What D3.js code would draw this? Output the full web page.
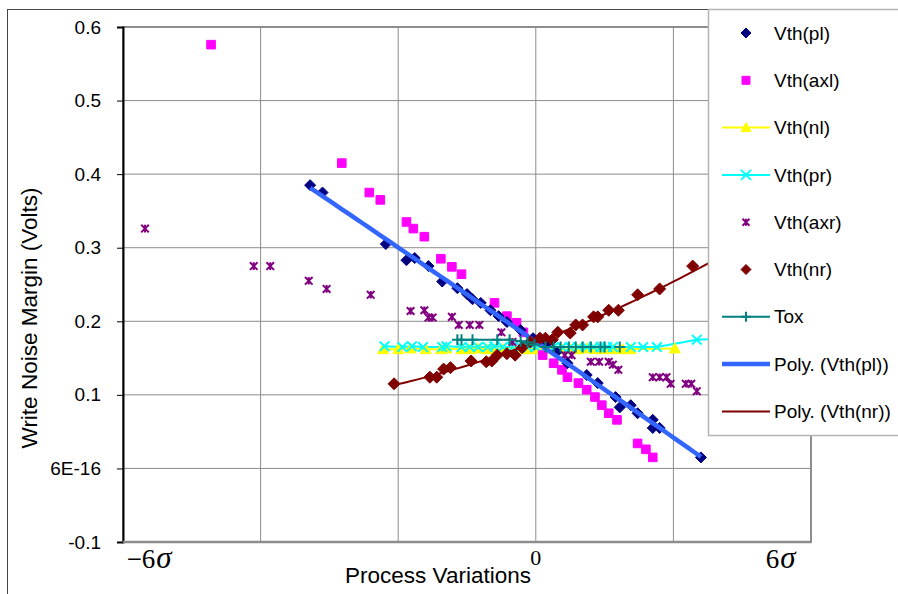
<!DOCTYPE html>
<html lang="en">
<head>
    <meta charset="UTF-8" />
    <title>Write Noise Margin vs Process Variations</title>
    <script src="https://d3js.org/d3.v7.min.js"></script>
    <style>
        body { margin: 0; background: #fff; }
        svg { display: block; font-family: "Liberation Sans", Arial, sans-serif; }
        .grid line { stroke: #8c8c8c; stroke-width: 1px; }
        .sigma { font-family: "Liberation Serif", "Times New Roman", serif; }
    </style>
</head>
<body>
    <script>
        // series (x = process variation, y = noise margin in volts)
        const plX = [-0.164, -0.155, -0.109, -0.094, -0.088, -0.078, -0.068, -0.057, -0.050, -0.046, -0.040, -0.033, -0.027, -0.021, -0.011, -0.002, 0.007, 0.015, 0.023, 0.037, 0.045, 0.058, 0.061, 0.069, 0.074, 0.085, 0.085, 0.090, 0.120];
        const plY = [0.385, 0.375, 0.305, 0.283, 0.286, 0.275, 0.254, 0.245, 0.237, 0.230, 0.225, 0.215, 0.207, 0.199, 0.188, 0.177, 0.168, 0.158, 0.143, 0.127, 0.116, 0.097, 0.083, 0.086, 0.075, 0.066, 0.055, 0.055, 0.015];

        const axlX = [-0.236, -0.141, -0.121, -0.113, -0.094, -0.089, -0.081, -0.069, -0.061, -0.054, -0.030, -0.021, -0.014, -0.009, -0.002, 0.005, 0.013, 0.019, 0.023, 0.031, 0.037, 0.043, 0.048, 0.053, 0.059, 0.074, 0.080, 0.085];
        const axlY = [0.576, 0.415, 0.375, 0.365, 0.335, 0.326, 0.315, 0.285, 0.274, 0.264, 0.225, 0.207, 0.198, 0.185, 0.175, 0.154, 0.143, 0.134, 0.124, 0.116, 0.107, 0.097, 0.086, 0.075, 0.066, 0.034, 0.026, 0.015];

        const nlX = [-0.111, -0.100, -0.091, -0.080, -0.069, -0.065, -0.054, -0.048, -0.042, -0.035, -0.030, -0.024, -0.017, -0.011, -0.006, 0.000, 0.007, 0.013, 0.019, 0.025, 0.031, 0.037, 0.043, 0.050, 0.057, 0.063, 0.069, 0.101];
        const nlY = [0.162, 0.162, 0.163, 0.162, 0.162, 0.163, 0.162, 0.162, 0.163, 0.162, 0.162, 0.162, 0.163, 0.162, 0.162, 0.162, 0.162, 0.163, 0.162, 0.162, 0.162, 0.163, 0.162, 0.162, 0.162, 0.162, 0.162, 0.163];

        const prX = [-0.110, -0.097, -0.090, -0.082, -0.068, -0.065, -0.054, -0.048, -0.042, -0.035, -0.030, -0.024, -0.017, -0.011, -0.006, 0.000, 0.007, 0.013, 0.019, 0.025, 0.031, 0.037, 0.042, 0.047, 0.052, 0.056, 0.069, 0.078, 0.088, 0.117, 0.141];
        const prY = [0.166, 0.165, 0.166, 0.165, 0.165, 0.166, 0.165, 0.165, 0.165, 0.165, 0.166, 0.165, 0.165, 0.165, 0.165, 0.165, 0.165, 0.165, 0.165, 0.165, 0.165, 0.165, 0.165, 0.165, 0.165, 0.165, 0.165, 0.165, 0.165, 0.175, 0.177];

        const axrX = [-0.284, -0.205, -0.193, -0.165, -0.152, -0.120, -0.091, -0.081, -0.078, -0.075, -0.061, -0.056, -0.048, -0.041, -0.025, -0.017, 0.021, 0.026, 0.040, 0.046, 0.053, 0.056, 0.060, 0.085, 0.090, 0.095, 0.098, 0.109, 0.113, 0.117];
        const axrY = [0.326, 0.275, 0.275, 0.255, 0.244, 0.236, 0.214, 0.215, 0.205, 0.205, 0.206, 0.195, 0.195, 0.195, 0.185, 0.172, 0.154, 0.154, 0.145, 0.145, 0.145, 0.141, 0.134, 0.124, 0.124, 0.124, 0.115, 0.115, 0.115, 0.105];

        const nrX = [-0.103, -0.077, -0.072, -0.067, -0.062, -0.047, -0.036, -0.032, -0.028, -0.021, -0.015, -0.010, -0.004, 0.003, 0.007, 0.012, 0.016, 0.025, 0.029, 0.034, 0.042, 0.045, 0.053, 0.060, 0.074, 0.090, 0.114, 0.145];
        const nrY = [0.115, 0.124, 0.124, 0.135, 0.137, 0.146, 0.145, 0.146, 0.154, 0.156, 0.154, 0.164, 0.172, 0.177, 0.177, 0.175, 0.185, 0.184, 0.195, 0.195, 0.206, 0.206, 0.215, 0.215, 0.236, 0.244, 0.275, 0.292];

        const toxX = [-0.057, -0.054, -0.046, -0.028, -0.019, -0.011, -0.006, -0.001, 0.007, 0.013, 0.018, 0.024, 0.029, 0.034, 0.040, 0.047, 0.050, 0.061];
        const toxY = [0.175, 0.175, 0.175, 0.175, 0.175, 0.173, 0.171, 0.168, 0.165, 0.165, 0.165, 0.165, 0.165, 0.165, 0.165, 0.165, 0.165, 0.165];

        // axis ticks and labels
        const yTicks = [-0.1, 0, 0.1, 0.2, 0.3, 0.4, 0.5, 0.6];
        const yTickLabels = ["-0.1", "6E-16", "0.1", "0.2", "0.3", "0.4", "0.5", "0.6"];
        const xTicks = [-0.3, -0.2, -0.1, 0, 0.1, 0.2];
        const sigmaNums = ["\u22126", "0", "6"];
        const sigmaAt = [-0.281, 0, 0.178];

        const width = 898, height = 594;
        const plot = { left: 123, right: 811, top: 27, bottom: 542 };

        const x = d3.scaleLinear().domain([-0.3, 0.2]).range([plot.left, plot.right]);
        const y = d3.scaleLinear().domain([-0.1, 0.6]).range([plot.bottom, plot.top]);

        const zip = (xs, ys) => xs.map((v, i) => ({ x: v, y: ys[i] }));

        // marker shapes, s = half size
        function marker(type, s) {
            switch (type) {
                case "diamond": return `M0,${-s}L${s},0L0,${s}L${-s},0Z`;
                case "square": return `M${-s},${-s}h${2 * s}v${2 * s}h${-2 * s}Z`;
                case "triangle": return `M0,${-s}L${s},${s * 0.8}L${-s},${s * 0.8}Z`;
                case "x": return `M${-s},${-s}L${s},${s}M${-s},${s}L${s},${-s}`;
                case "star": return `M${-s},${-s}L${s},${s}M${-s},${s}L${s},${-s}M0,${-s}V${s}`;
                case "plus": return `M${-s},0H${s}M0,${-s}V${s}`;
            }
        }
        const filled = t => t === "diamond" || t === "square" || t === "triangle";

        const series = [
            { name: "Vth(pl)", data: zip(plX, plY), color: "#000080", shape: "diamond", size: 5.5, line: false },
            { name: "Vth(axl)", data: zip(axlX, axlY), color: "#ff00ff", shape: "square", size: 4.3, line: false },
            { name: "Vth(nl)", data: zip(nlX, nlY), color: "#ffff00", shape: "triangle", size: 5.5, line: true },
            { name: "Vth(pr)", data: zip(prX, prY), color: "#00ffff", shape: "x", size: 4.8, line: true },
            { name: "Vth(axr)", data: zip(axrX, axrY), color: "#800080", shape: "star", size: 3.8, line: false },
            { name: "Vth(nr)", data: zip(nrX, nrY), color: "#800000", shape: "diamond", size: 6, line: false },
            { name: "Tox", data: zip(toxX, toxY), color: "#008080", shape: "plus", size: 5.5, line: true }
        ];

        // least squares quadratic, as the Poly. trendlines
        function polyfit2(pts) {
            const s = [0, 0, 0, 0, 0], t = [0, 0, 0];
            pts.forEach(p => {
                for (let k = 0; k < 5; k++) s[k] += Math.pow(p.x, k);
                for (let k = 0; k < 3; k++) t[k] += p.y * Math.pow(p.x, k);
            });
            const m = [[s[0], s[1], s[2], t[0]], [s[1], s[2], s[3], t[1]], [s[2], s[3], s[4], t[2]]];
            for (let i = 0; i < 3; i++) {
                for (let j = i + 1; j < 3; j++) {
                    const f = m[j][i] / m[i][i];
                    for (let k = i; k < 4; k++) m[j][k] -= f * m[i][k];
                }
            }
            const c = [0, 0, 0];
            for (let i = 2; i >= 0; i--) {
                let v = m[i][3];
                for (let k = i + 1; k < 3; k++) v -= m[i][k] * c[k];
                c[i] = v / m[i][i];
            }
            return c;
        }
        function trend(pts) {
            const c = polyfit2(pts);
            const [x0, x1] = d3.extent(pts, d => d.x);
            return d3.range(0, 61).map(i => {
                const xv = x0 + (x1 - x0) * i / 60;
                return { x: xv, y: c[0] + c[1] * xv + c[2] * xv * xv };
            });
        }
        const trends = [
            { name: "Poly. (Vth(pl))", data: trend(series[0].data), color: "#3366ff", width: 4.5 },
            { name: "Poly. (Vth(nr))", data: trend(series[5].data), color: "#800000", width: 2 }
        ];

        const svg = d3.select("body").append("svg").attr("width", width).attr("height", height);

        // chart frame
        svg.append("rect").attr("x", 7.5).attr("y", 9.5).attr("width", width).attr("height", height)
            .attr("fill", "#fff").attr("stroke", "#444").attr("stroke-width", 1);

        // gridlines
        const grid = svg.append("g").attr("class", "grid");
        grid.selectAll(".hy").data(yTicks).join("line")
            .attr("x1", plot.left).attr("x2", plot.right)
            .attr("y1", d => y(d)).attr("y2", d => y(d));
        grid.selectAll(".vx").data(xTicks).join("line")
            .attr("x1", d => x(d)).attr("x2", d => x(d))
            .attr("y1", plot.top).attr("y2", plot.bottom);

        // plot area border
        svg.append("rect").attr("x", plot.left).attr("y", plot.top)
            .attr("width", plot.right - plot.left).attr("height", plot.bottom - plot.top)
            .attr("fill", "none").attr("stroke", "#8c8c8c").attr("stroke-width", 2);

        // y axis
        const yAxis = svg.append("g").attr("transform", `translate(${plot.left},0)`)
            .call(d3.axisLeft(y).tickValues(yTicks).tickFormat((d, i) => yTickLabels[i]).tickSize(6).tickPadding(16));
        yAxis.select(".domain").attr("stroke", "#000").attr("stroke-width", 2);
        yAxis.selectAll(".tick line").attr("stroke", "#000");
        yAxis.selectAll("text").attr("font-size", 19).attr("fill", "#000")
            .attr("font-family", "'Liberation Sans', Arial, sans-serif");

        // bottom axis line
        svg.append("line").attr("x1", plot.left).attr("x2", plot.right)
            .attr("y1", plot.bottom).attr("y2", plot.bottom)
            .attr("stroke", "#8c8c8c").attr("stroke-width", 2.5);

        const line = d3.line().x(d => x(d.x)).y(d => y(d.y));
        const marks = svg.append("g");

        // connecting lines of line series
        series.filter(s => s.line).forEach(s => {
            marks.append("path").datum(s.data).attr("d", line)
                .attr("fill", "none").attr("stroke", s.color).attr("stroke-width", 2);
        });

        function drawMarkers(s) {
            marks.append("g").selectAll("path").data(s.data).join("path")
                .attr("transform", d => `translate(${x(d.x)},${y(d.y)})`)
                .attr("d", marker(s.shape, s.size))
                .attr("fill", filled(s.shape) ? s.color : "none")
                .attr("stroke", s.color)
                .attr("stroke-width", filled(s.shape) ? 1 : 2);
        }
        [2, 3, 1, 4, 0].forEach(i => drawMarkers(series[i]));
        marks.append("path").datum(trends[0].data).attr("d", line)
            .attr("fill", "none").attr("stroke", trends[0].color).attr("stroke-width", trends[0].width);
        marks.append("path").datum(trends[1].data).attr("d", line)
            .attr("fill", "none").attr("stroke", trends[1].color).attr("stroke-width", trends[1].width);
        [5, 6].forEach(i => drawMarkers(series[i]));

        // axis titles
        svg.append("text").attr("x", 438).attr("y", 583).attr("text-anchor", "middle")
            .attr("font-size", 22.5).text("Process Variations");
        svg.append("text").attr("transform", "translate(37,318) rotate(-90)").attr("text-anchor", "middle")
            .attr("font-size", 22.5).text("Write Noise Margin (Volts)");

        // sigma labels under the x axis
        const sig = svg.selectAll(".sigma").data(sigmaNums).join("text")
            .attr("class", "sigma")
            .attr("x", (d, i) => x(sigmaAt[i])).attr("y", (d, i) => i === 1 ? 565 : 568)
            .attr("text-anchor", "middle")
            .attr("font-size", (d, i) => i === 1 ? 22 : 27);
        sig.append("tspan").text(d => d);
        sig.filter((d, i) => i !== 1).append("tspan")
            .attr("font-style", "italic").attr("font-size", 31).attr("dx", 1).text("\u03C3");

        // legend
        const lg = svg.append("g").attr("transform", "translate(708,9)");
        lg.append("rect").attr("x", 0.5).attr("y", 0.5).attr("width", 220).attr("height", 426)
            .attr("fill", "#fff").attr("stroke", "#b4b4b4").attr("stroke-width", 1.5);
        const legendItems = series.map(s => ({ ...s, kind: "series" }))
            .concat(trends.map(t => ({ ...t, kind: "trend" })));
        const rows = lg.selectAll(".row").data(legendItems).join("g")
            .attr("transform", (d, i) => `translate(0,${24 + i * 47.3})`);
        rows.filter(d => d.kind === "trend" || d.line).append("line")
            .attr("x1", 14).attr("x2", 62).attr("y1", 0).attr("y2", 0)
            .attr("stroke", d => d.color).attr("stroke-width", d => d.kind === "trend" ? d.width : 2);
        rows.filter(d => d.kind === "series").append("path")
            .attr("transform", "translate(38,0)")
            .attr("d", d => marker(d.shape, d.shape === "square" ? 4 : d.shape === "star" ? 3.5 : 5))
            .attr("fill", d => filled(d.shape) ? d.color : "none")
            .attr("stroke", d => d.color)
            .attr("stroke-width", d => filled(d.shape) ? 1 : 2);
        rows.append("text").attr("x", 66).attr("y", 0).attr("dy", "0.35em")
            .attr("font-size", 19).text(d => d.name);
    </script>
</body>
</html>
